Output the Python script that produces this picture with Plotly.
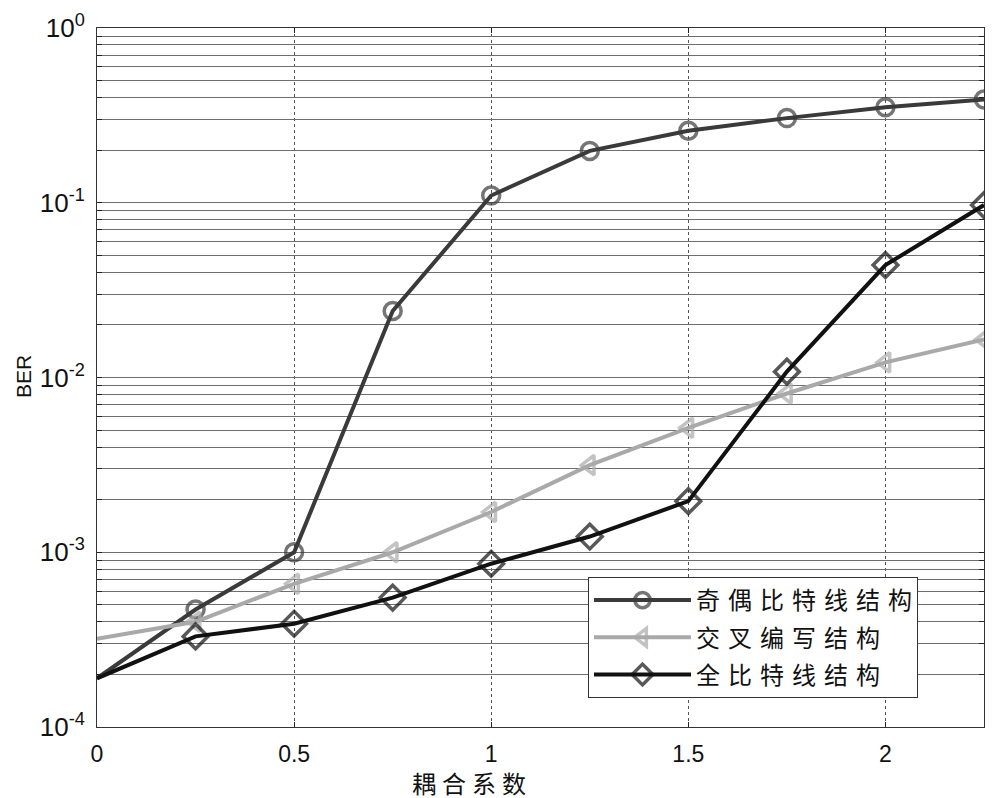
import plotly.graph_objects as go

# ---- data ----
coupling = [0, 0.25, 0.5, 0.75, 1.0, 1.25, 1.5, 1.75, 2.0, 2.25]
ber_odd_even = [1.9e-4, 4.7e-4, 1.0e-3, 2.4e-2, 0.11, 0.198, 0.258, 0.305, 0.352, 0.39]
ber_cross = [3.2e-4, 4.0e-4, 6.6e-4, 1.0e-3, 1.7e-3, 3.15e-3, 5.15e-3, 8.1e-3, 1.22e-2, 1.65e-2]
ber_full = [1.9e-4, 3.3e-4, 3.9e-4, 5.5e-4, 8.6e-4, 1.23e-3, 1.96e-3, 1.08e-2, 4.4e-2, 9.7e-2]

SP = "\u2004"
series_names = [SP.join("奇偶比特线结构"), SP.join("交叉编写结构"), SP.join("全比特线结构")]
x_title = "\u2005".join("耦合系数")
y_title = "BER"
x_ticks = [0, 0.5, 1, 1.5, 2]
x_ticktext = ["0", "0.5", "1", "1.5", "2"]
decades = [-4, -3, -2, -1, 0]

# y ticks: every 1..9 x decade; label only powers of ten
y_tickvals, y_ticktext = [], []
for d in decades:
    for m in range(1, 10):
        if d == 0 and m > 1:
            break
        y_tickvals.append(m * 10 ** d)
        y_ticktext.append(f"10<sup>{d}</sup>" if m == 1 else "")

CJK = "Noto Sans CJK SC"
LAT = "Liberation Sans, Arial"

n = len(coupling)
styles = [
    ("#3a3a3a", "circle-open", 17),
    ("#a9a9a9", "triangle-left-open", 17),
    ("#111111", "diamond-open", 19),
]
series = [ber_odd_even, ber_cross, ber_full]

fig = go.Figure()
for i, (vals, (col, sym, sz)) in enumerate(zip(series, styles)):
    fig.add_trace(go.Scatter(
        x=coupling, y=vals, name=series_names[i], mode="lines+markers",
        legendgroup=f"g{i}",
        line=dict(color=col, width=4),
        marker=dict(symbol=sym, size=[0] + [sz] * (n - 1), color=col,
                    line=dict(width=3.5, color=col)),
    ))

# page body has an 8px margin: target plot area on screen is x 97..984, y 28..727
OFF = 8
W, H = 1000, 798
L = 97 - OFF
T = 28 - OFF
R = W - (984 - OFF)
B = H - (727 - OFF)
PW, PH = W - L - R, H - T - B


def px_x(x):
    return (x - OFF - L) / PW


def px_y(y):
    return 1 - (y - OFF - T) / PH


fig.update_layout(
    width=W, height=H,
    margin=dict(l=L, r=R, t=T, b=B, autoexpand=False),
    paper_bgcolor="white", plot_bgcolor="white",
    font=dict(family=LAT, color="#111", size=20),
    showlegend=True,
    legend=dict(
        x=px_x(588), y=px_y(577), xanchor="left", yanchor="top",
        bgcolor="white", bordercolor="#333", borderwidth=1,
        font=dict(family=CJK, size=24, color="#111"),
        tracegroupgap=3, itemwidth=97,
    ),
    annotations=[
        dict(text=x_title, x=px_x(469), y=px_y(783),
             xref="paper", yref="paper", xanchor="center", yanchor="middle",
             showarrow=False, font=dict(family=CJK, size=24, color="#111")),
        dict(text=y_title, x=px_x(23), y=px_y(377), textangle=-90,
             xref="paper", yref="paper", xanchor="center", yanchor="middle",
             showarrow=False, font=dict(family=LAT, size=21, color="#111")),
    ],
)

fig.update_xaxes(
    range=[0, 2.25], tickvals=x_ticks, ticktext=x_ticktext,
    ticks="inside", ticklen=5, tickcolor="#222", mirror="ticks",
    showline=True, linecolor="#333", linewidth=1,
    showgrid=True, gridcolor="#555", gridwidth=1, griddash="dot",
    zeroline=False, tickfont=dict(family=LAT, size=23, color="#111"),
    ticklabelstandoff=6, automargin=False,
)
fig.update_yaxes(
    type="log", range=[-4, 0], tickvals=y_tickvals, ticktext=y_ticktext,
    ticks="inside", ticklen=5, tickcolor="#222", mirror="ticks",
    showline=True, linecolor="#333", linewidth=1,
    showgrid=True, gridcolor="#6e6e6e", gridwidth=1,
    zeroline=False, tickfont=dict(family=LAT, size=26, color="#111"),
    ticklabelstandoff=6, automargin=False,
)

fig.write_html("out.html")
